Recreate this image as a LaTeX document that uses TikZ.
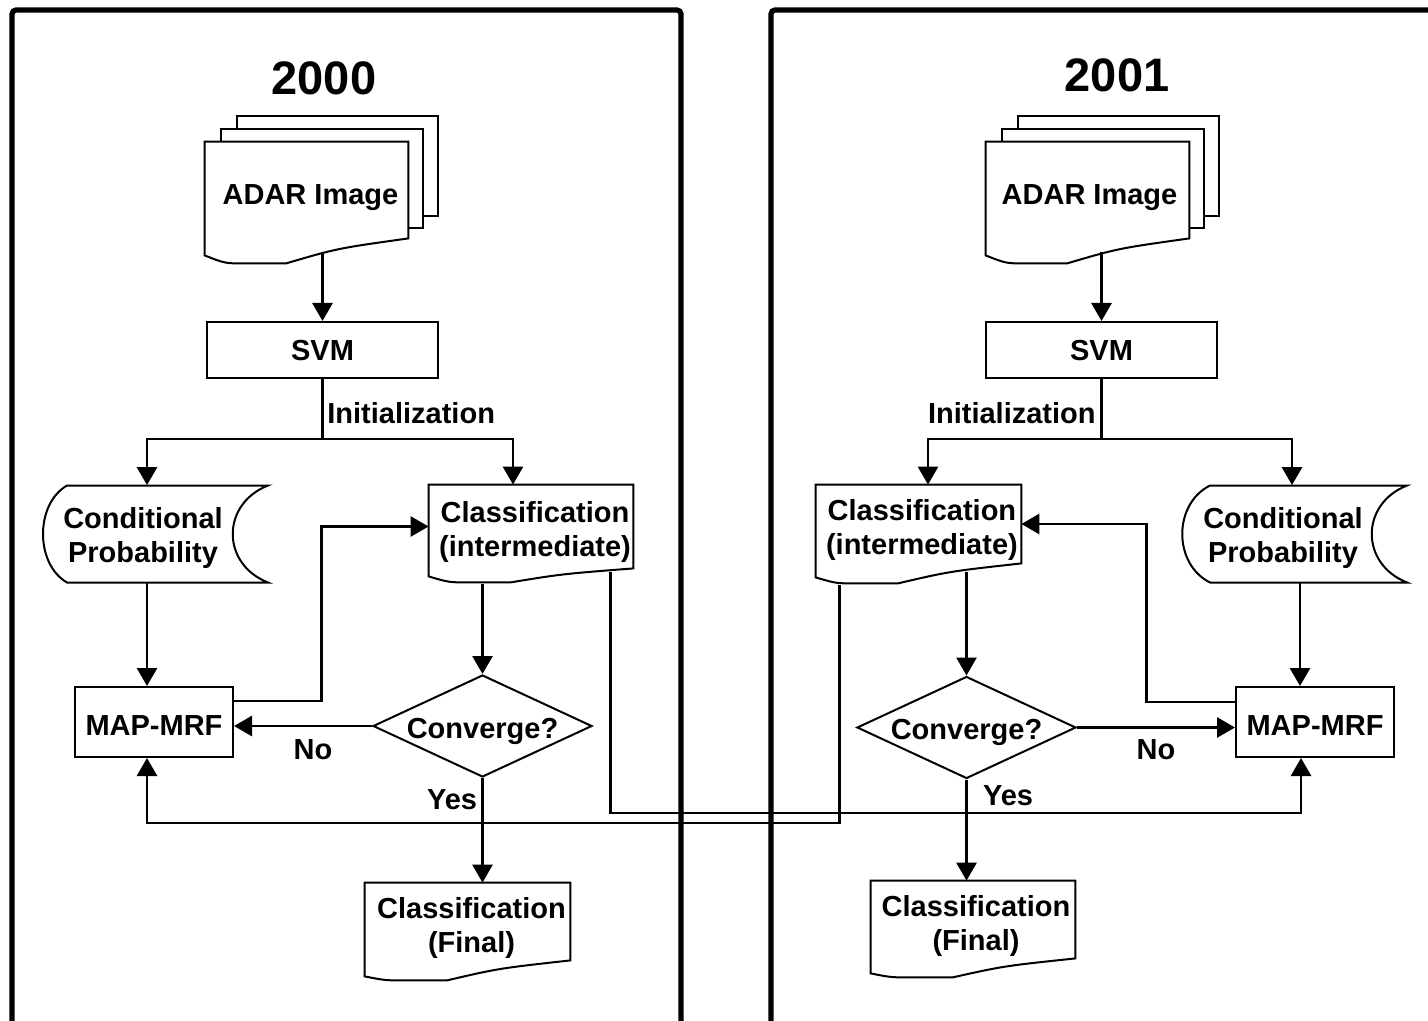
\documentclass[tikz,border=0pt]{standalone}
\usepackage{fontspec}
\setmainfont{Liberation Sans}
\usetikzlibrary{arrows.meta,calc,shapes.geometric}
\pgfdeclarelayer{bg}
\pgfsetlayers{bg,main}

\tikzset{
  lbl/.style={font=\fontsize{14.5}{17}\selectfont\bfseries, align=center, inner sep=0pt},
  boxnode/.style={draw, line width=1pt, fill=white, inner sep=0pt},
  docnode/.style={inner sep=0pt},
  conn/.style={line width=1.4pt},
  arr/.style={conn, -{Triangle[length=9pt,width=10pt]}},
  shapeline/.style={line width=1pt, fill=white, line join=miter},
  frameline/.style={line width=2.6pt, rounded corners=2pt},
  titletext/.style={font=\fontsize{23.5}{28}\selectfont\bfseries, inner sep=0pt},
  decision/.style={diamond, draw, line width=1pt, fill=white, inner sep=0pt,
    minimum width=109.5pt, minimum height=51pt},
}

% document shape with wavy bottom: #1 node, #2 left drop, #3 dip
\newcommand\docshape[3]{%
  \draw[shapeline] (#1.south east) -- (#1.north east) -- (#1.north west)
    -- ($(#1.south west)+(0,#2)$)
    .. controls ($(#1.south west)!0.1!(#1.south east)+(0,#3)$) .. ($(#1.south west)!0.19!(#1.south east)+(0,#3)$)
    -- ($(#1.south west)!0.4!(#1.south east)+(0,#3)$)
    .. controls ($(#1.south west)!0.65!(#1.south east)+(0,#3*0.4)$) .. (#1.south east) -- cycle;}

% stacked sheets behind a document node
\newcommand\sheets[1]{%
  \draw[shapeline] ($(#1.north west)+(32,-26)$) rectangle ($(#1.north east)+(30,74)$);
  \draw[shapeline] ($(#1.north west)+(16,-13)$) rectangle ($(#1.north east)+(15,86)$);}

% stored data shape: #1 node, #2 left x, #3 right x, #4 left control, #5 right control
\newcommand\storedshape[5]{%
  \draw[shapeline, shift={(#1.center)}] (#2,-48.5) -- (#3,-48.5)
    .. controls (#5,-30) and (#5,30) .. (#3,48.5) -- (#2,48.5)
    .. controls (#4,30) and (#4,-30) .. (#2,-48.5) -- cycle;}

\begin{document}
\begin{tikzpicture}[x=0.5pt,y=-0.5pt]
\useasboundingbox (0,0) rectangle (1428,1021);
\clip (0,0) rectangle (1428,1021);

% frames
\draw[frameline] (12,1040) -- (12,10) -- (681,10) -- (681,1040);
\draw[frameline] (771,1040) -- (771,10) -- (1460,10);

% titles
\node[titletext] (t1) at (324,78) {2000};
\node[titletext] (t2) at (1117,75) {2001};

% ---------- left panel ----------
\node[docnode, minimum width=101.5pt, minimum height=48pt,
  label={[lbl,name=adar1t,xshift=2pt,yshift=-4pt]center:{ADAR Image}}] (adar1) at (306.5,190) {};
\node[boxnode, minimum width=115.5pt, minimum height=28pt,
  label={[lbl,name=svm1t,yshift=-0.5pt]center:{SVM}}] (svm1) at (322.5,350) {};
\node[docnode, minimum width=102pt, minimum height=41.5pt,
  label={[lbl,name=class1t,xshift=2pt,yshift=-2.7pt]center:{Classification\\(intermediate)}}] (class1) at (531,526.5) {};
\node[docnode, minimum height=48.5pt,
  label={[lbl,name=cp1t,yshift=-2pt]center:{Conditional\\Probability}}] (cp1) at (143,534) {};
\node[boxnode, minimum width=79pt, minimum height=35pt,
  label={[lbl,name=map1t,yshift=-2pt]center:{MAP-MRF}}] (map1) at (154,722) {};
\node[decision, label={[lbl,name=dia1t,yshift=-2.5pt]center:{Converge?}}] (dia1) at (482.5,726) {};
\node[docnode, minimum width=102.5pt, minimum height=38.5pt,
  label={[lbl,name=final1t,xshift=2pt,yshift=-3pt]center:{Classification\\(Final)}}] (final1) at (467.5,921.5) {};
\node[lbl, anchor=west] (init1) at (327,413) {Initialization};
\node[lbl] (no1) at (313,750) {No};
\node[lbl] (yes1) at (452,800) {Yes};

% ---------- right panel ----------
\node[docnode, minimum width=101.5pt, minimum height=48pt,
  label={[lbl,name=adar2t,xshift=1pt,yshift=-4pt]center:{ADAR Image}}] (adar2) at (1087.5,190) {};
\node[boxnode, minimum width=115.5pt, minimum height=28pt,
  label={[lbl,name=svm2t,yshift=-0.5pt]center:{SVM}}] (svm2) at (1101.5,350) {};
\node[docnode, minimum width=102.5pt, minimum height=39pt,
  label={[lbl,name=class2t,xshift=1.7pt,yshift=-3pt]center:{Classification\\(intermediate)}}] (class2) at (918.5,524) {};
\node[docnode, minimum height=48.5pt,
  label={[lbl,name=cp2t,yshift=-2pt]center:{Conditional\\Probability}}] (cp2) at (1283,534) {};
\node[boxnode, minimum width=79pt, minimum height=35pt,
  label={[lbl,name=map2t,yshift=-2pt]center:{MAP-MRF}}] (map2) at (1315,722) {};
\node[decision, label={[lbl,name=dia2t,yshift=-2.5pt]center:{Converge?}}] (dia2) at (966.5,727.5) {};
\node[docnode, minimum width=102pt, minimum height=38.5pt,
  label={[lbl,name=final2t,xshift=1.5pt,yshift=-3pt]center:{Classification\\(Final)}}] (final2) at (973,919.5) {};
\node[lbl, anchor=east] (init2) at (1096,413) {Initialization};
\node[lbl] (no2) at (1156,750) {No};
\node[lbl] (yes2) at (1008,796) {Yes};

% shapes behind text
\begin{pgfonlayer}{bg}
  \sheets{adar1}
  \docshape{adar1}{17}{25}
  \sheets{adar2}
  \docshape{adar2}{17}{25}
  \docshape{class1}{8}{14}
  \docshape{class2}{14}{20}
  \docshape{final1}{16}{20}
  \docshape{final2}{15}{19}
  \storedshape{cp1}{-76}{125}{-108}{78}
  \storedshape{cp2}{-73}{124}{-110}{77}
\end{pgfonlayer}

% ---------- left connectors ----------
\draw[arr] ($(adar1.south -| svm1.north)+(0,14)$) -- (svm1.north);
\coordinate (s1) at ($(svm1.south)+(0,60)$);
\draw[conn] (svm1.south) -- (s1);
\draw[arr] (s1) -| ($(cp1.north)+(4,0)$);
\draw[arr] (s1) -| ($(class1.north)+(-18,0)$);
\draw[arr] ($(cp1.south)+(4,0)$) -- ($(map1.north)+(-7,0)$);
\draw[arr] ($(dia1.north |- class1.south)+(0,16)$) -- (dia1.north);
\draw[arr] (dia1.south) -- (dia1.south |- final1.north);
\draw[arr] (dia1.west) -- (dia1.west -| map1.east);
\coordinate (l1) at ($(class1.west)+(-107,0)$);
\draw[arr] ($(map1.east)+(0,-21)$) -| (l1) -- (class1.west);

% ---------- right connectors ----------
\draw[arr] ($(adar2.south -| svm2.north)+(0,14)$) -- (svm2.north);
\coordinate (s2) at ($(svm2.south)+(0,60)$);
\draw[conn] (svm2.south) -- (s2);
\draw[arr] (s2) -| ($(class2.north)+(9.5,0)$);
\draw[arr] (s2) -| ($(cp2.north)+(9,0)$);
\draw[arr] ($(cp2.south)+(17,0)$) -- ($(map2.north)+(-15,0)$);
\draw[arr] ($(dia2.north |- class2.south)+(0,9)$) -- (dia2.north);
\draw[arr] (dia2.south) -- (dia2.south |- final2.north);
\draw[arr] (dia2.east) -- (dia2.east -| map2.west);
\coordinate (l2) at ($(class2.east)+(125,0)$);
\draw[arr] ($(map2.west)+(0,-20)$) -| (l2) -- (class2.east);

% ---------- crossing connectors ----------
\draw[arr] ($(class1.south east)+(-23,4)$) |- ($(map2.south)+(-14,55)$) -- ($(map2.south)+(-14,0)$);
\draw[arr] ($(class2.south west)+(24,22)$) |- ($(map1.south)+(-7,65)$) -- ($(map1.south)+(-7,0)$);
\end{tikzpicture}
\end{document}
